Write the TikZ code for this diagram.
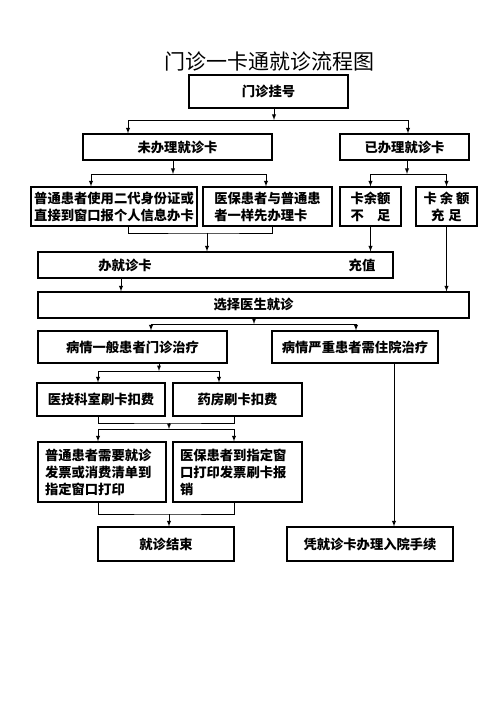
\documentclass[tikz,border=0pt]{standalone}
\usepackage{fontspec}
\setmainfont{Noto Sans CJK SC}
\usetikzlibrary{arrows}
\usetikzlibrary{calc}

\begin{document}
\begin{tikzpicture}[
                x = 1pt, y = -1pt, % pixel units, y downwards
                > = latex, % arrow head style
                line width = 0.9pt
        ]

        \tikzstyle{box}=[
            draw = black,
            line width = 1.1pt,
            inner sep = 2pt,
            font = \fontsize{13.3pt}{17pt}\selectfont\bfseries
        ]

        \useasboundingbox (0,0) rectangle (500,708);
        \fill[white] (0,0) rectangle (500,708);

        \node[font=\fontsize{21pt}{24pt}\selectfont] (title) at (269,62) {门诊一卡通就诊流程图};

        \node[box, minimum width=159pt, minimum height=33pt] (reg) at (268.5,91.5) {门诊挂号};
        \node[box, minimum width=189pt, minimum height=26pt] (nocard) at (177.5,147) {未办理就诊卡};
        \node[box, minimum width=129pt, minimum height=26pt] (hascard) at (404.5,147) {已办理就诊卡};
        \node[box, minimum width=166pt, minimum height=39pt, align=center] (idcard) at (114,206.5) {普通患者使用二代身份证或\\直接到窗口报个人信息办卡};
        \node[box, minimum width=129pt, minimum height=39pt, align=left] (insur) at (267.5,206.5) {医保患者与普通患\\者一样先办理卡};
        \node[box, minimum width=61pt, minimum height=39pt, align=center] (low) at (370.5,206.5) {卡余额\\不\hspace{1em}足};
        \node[box, minimum width=61pt, minimum height=39pt, align=center] (enough) at (446.5,206.5) {卡\hspace{3pt}余\hspace{3pt}额\\充\hspace{4pt}足};
        \node[box, minimum width=355pt, minimum height=26pt] (apply) at (215.5,265) {};
        \node[box, draw=none] (applytext) at (125,265) {办就诊卡};
        \node[box, draw=none] (topup) at (362,265) {充值};
        \node[box, minimum width=431pt, minimum height=26pt] (choose) at (253.5,305) {选择医生就诊};
        \node[box, minimum width=189pt, minimum height=32pt] (mild) at (132.5,347) {病情一般患者门诊治疗};
        \node[box, minimum width=166pt, minimum height=32pt] (severe) at (355,347) {病情严重患者需住院治疗};
        \node[box, minimum width=128pt, minimum height=33pt] (lab) at (101,399.5) {医技科室刷卡扣费};
        \node[box, minimum width=129pt, minimum height=33pt] (pharm) at (237.5,399.5) {药房刷卡扣费};
        \node[box, inner xsep=7pt, text width=114pt, minimum height=60pt, align=left] (normal) at (102,472) {普通患者需要就诊\\发票或消费清单到\\指定窗口打印};
        \node[box, inner xsep=7pt, text width=115pt, minimum height=60pt, align=left] (insprint) at (237.5,472) {医保患者到指定窗\\口打印发票刷卡报\\销};
        \node[box, minimum width=136pt, minimum height=34pt] (finish) at (166,544) {就诊结束};
        \node[box, minimum width=166pt, minimum height=34pt] (admit) at (370,544) {凭就诊卡办理入院手续};

        % registration branches
        \coordinate (j1) at (274,120);
        \draw[->] (reg.south -| j1) -- (j1);
        \draw[->] (j1) -| ($(nocard.north)+(-49.5,0)$);
        \draw[->] (j1) -| ($(hascard.north)+(3.5,0)$);

        \coordinate (j2) at (173,174);
        \draw[->] (nocard.south -| j2) -- (j2);
        \draw[->] (j2) -| ($(idcard.north)+(-23,0)$);
        \draw[->] (j2) -| ($(insur.north)+(-1.5,0)$);

        \coordinate (j3) at (407,174);
        \draw[->] (hascard.south -| j3) -- (j3);
        \draw[->] (j3) -| (low.north);
        \draw[->] (j3) -| (enough.north);

        % card issue and top up
        \coordinate (j4) at (207,233);
        \draw ($(idcard.south)+(14,0)$) |- (j4) -| ($(insur.south)+(4.5,0)$);
        \draw[->] (j4) -- (j4 |- apply.north);
        \draw[->] (low.south) -- (low.south |- apply.north);
        \draw[->] (enough.south) -- (enough.south |- choose.north);
        \coordinate (j5) at ($(apply.south)+(-94.5,0)$);
        \draw[->] (j5) -- (j5 |- choose.north);

        % treatment
        \coordinate (j6) at (254,324);
        \draw[->] (choose.south -| j6) -- (j6);
        \draw[->] (j6) -| ($(mild.north)+(18.5,0)$);
        \draw[->] (j6) -| ($(severe.north)+(1,0)$);

        \coordinate (j7) at (159,371);
        \draw[->] (mild.south -| j7) -- (j7);
        \draw[->] (j7) -| ($(lab.north)+(-3,0)$);
        \draw[->] (j7) -| ($(pharm.north)+(-18.5,0)$);

        \coordinate (j8) at (169,423);
        \coordinate (j9) at (169,429);
        \draw ($(lab.south)+(-3,0)$) |- (j8) -| ($(pharm.south)+(-3.5,0)$);
        \draw[->] (j8) -- (j9);
        \draw[->] (j9) -| ($(normal.north)+(-4,0)$);
        \draw[->] (j9) -| ($(insprint.north)+(-3.5,0)$);

        \coordinate (j10) at (169,514);
        \draw ($(normal.south)+(-4,0)$) |- (j10) -| ($(insprint.south)+(-3.5,0)$);
        \draw[->] (j10) -- (j10 |- finish.north);

        \coordinate (j11) at ($(severe.south)+(39,0)$);
        \draw[->] (j11) -- (j11 |- admit.north);

\end{tikzpicture}
\end{document}
